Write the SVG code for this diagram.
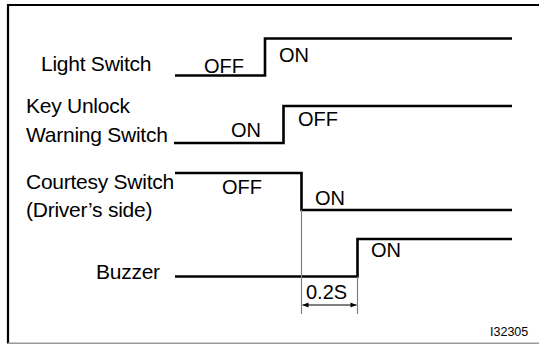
<svg xmlns="http://www.w3.org/2000/svg" width="539" height="345" viewBox="0 0 539 345">
<defs>
<style>
.lbl{font-family:"Liberation Sans",Arial,sans-serif;font-size:21px;letter-spacing:-0.25px;fill:#000}
.st{font-family:"Liberation Sans",Arial,sans-serif;font-size:20px;fill:#000}
.sig{fill:none;stroke:#000;stroke-width:2.6}
.guide{fill:none;stroke:#808080;stroke-width:1.2}
</style>
<marker id="ah" viewBox="0 0 10 10" refX="10" refY="5" markerWidth="12" markerHeight="6" markerUnits="userSpaceOnUse" orient="auto-start-reverse">
<path d="M0,1 L10,5 L0,9 Z" fill="#000"/>
</marker>
</defs>
<rect width="539" height="345" fill="#fff"/>
<g id="frame">
<path d="M539,5 H8 V343.5" fill="none" stroke="#000" stroke-width="2.2"/>
<path d="M8,343.3 H539" fill="none" stroke="#999" stroke-width="1.5"/>
</g>
<g id="light-switch">
<text class="lbl" x="41" y="71">Light Switch</text>
<path class="sig" d="M175,75.5 H265 V38.5 H512"/>
<text class="st" x="204" y="73">OFF</text>
<text class="st" x="279" y="62">ON</text>
</g>
<g id="key-unlock">
<text class="lbl" x="26" y="113">Key Unlock</text>
<text class="lbl" x="26" y="142">Warning Switch</text>
<path class="sig" d="M174,143 H283.5 V106 H512"/>
<text class="st" x="231" y="137">ON</text>
<text class="st" x="298" y="126">OFF</text>
</g>
<g id="courtesy-switch">
<text class="lbl" x="26" y="188.5">Courtesy Switch</text>
<text class="lbl" x="26" y="217">(Driver’s side)</text>
<path class="sig" d="M175,173 H301.5 V210 H512"/>
<text class="st" x="222" y="194">OFF</text>
<text class="st" x="315" y="205">ON</text>
</g>
<g id="buzzer">
<text class="lbl" x="96" y="278.5">Buzzer</text>
<path class="sig" d="M175,276.5 H357.5 V239 H512"/>
<text class="st" x="371" y="257">ON</text>
</g>
<g id="connectors">
<path class="guide" d="M301.5,210 V314 M357.5,276.5 V314"/>
<path d="M302.5,305 H356.5" stroke="#000" stroke-width="1.2" fill="none" marker-start="url(#ah)" marker-end="url(#ah)"/>
<text class="st" x="306" y="298.5">0.2S</text>
</g>
<text x="490" y="336" font-family="Liberation Sans,Arial,sans-serif" font-size="12.5" fill="#000">I32305</text>
</svg>
